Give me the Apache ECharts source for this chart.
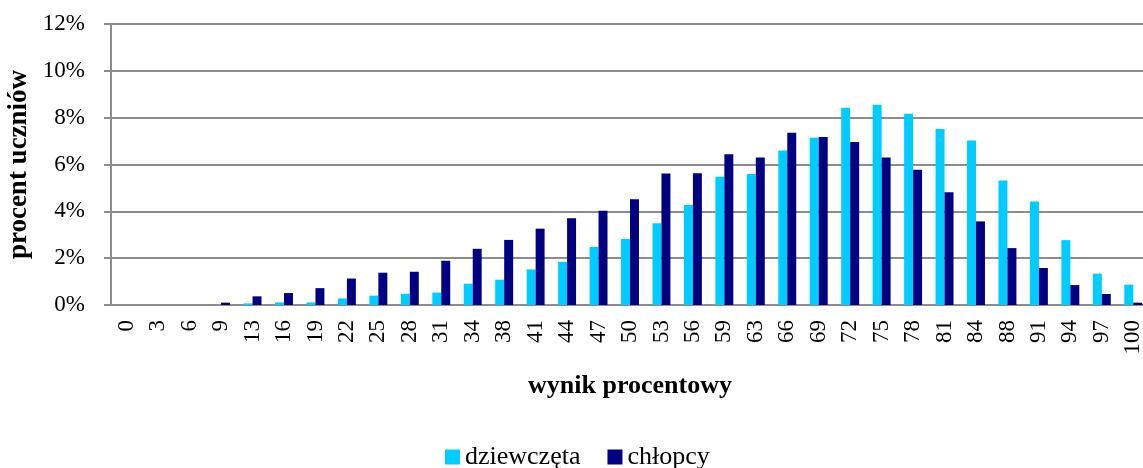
<!DOCTYPE html>
<html>
<head>
<meta charset="utf-8">
<script src="https://cdn.jsdelivr.net/npm/echarts@6/dist/echarts.min.js"></script>
<style>html,body{margin:0;padding:0;background:#fff}#c{width:1143px;height:468px}</style>
</head>
<body>
<div id="c"></div>
<script>
const categories = ['0','3','6','9','13','16','19','22','25','28','31','34','38','41','44','47','50','53','56','59','63','66','69','72','75','78','81','84','88','91','94','97','100'];
const dziewczeta = [0,0,0,0,0.07,0.11,0.11,0.28,0.40,0.48,0.53,0.91,1.08,1.52,1.84,2.48,2.82,3.49,4.27,5.48,5.59,6.60,7.14,8.42,8.55,8.17,7.52,7.03,5.32,4.42,2.77,1.34,0.87];
const chlopcy = [0,0,0,0.10,0.37,0.51,0.72,1.13,1.38,1.42,1.89,2.40,2.78,3.26,3.70,4.03,4.52,5.62,5.63,6.44,6.30,7.36,7.17,6.96,6.30,5.78,4.81,3.57,2.43,1.58,0.85,0.47,0.10];
const yTicks = {min:0, max:12, interval:2};

const font = '"Liberation Serif","Times New Roman",serif';
const chart = echarts.init(document.getElementById('c'));
chart.setOption({
  animation:false,
  grid:{left:111, top:24, width:1038, bottom:163, containLabel:false, outerBoundsMode:'none'},
  legend:{
    top:439, left:440,
    itemWidth:15, itemHeight:15, itemGap:27,
    icon:'rect',
    textStyle:{fontFamily:font, fontSize:26, color:'#000'},
    data:['dziewczęta','chłopcy']
  },
  xAxis:{
    type:'category', data:categories,
    name:'wynik procentowy', nameLocation:'middle', nameGap:68, nameMoveOverlap:false,
    nameTextStyle:{fontFamily:font, fontSize:26, fontWeight:'bold', color:'#000'},
    axisLine:{lineStyle:{color:'#8c8c8c', width:2}},
    axisTick:{show:false},
    axisLabel:{interval:0, rotate:90, fontFamily:font, fontSize:23, color:'#000', margin:15}
  },
  yAxis:{
    type:'value', min:yTicks.min, max:yTicks.max, interval:yTicks.interval,
    name:'procent uczniów', nameLocation:'middle', nameGap:78, nameRotate:90, nameMoveOverlap:false,
    nameTextStyle:{fontFamily:font, fontSize:27, fontWeight:'bold', color:'#000'},
    axisLine:{show:true, lineStyle:{color:'#8c8c8c', width:2}},
    axisTick:{show:true, inside:false, length:7, lineStyle:{color:'#8c8c8c', width:2}},
    axisLabel:{formatter:'{value}%', fontFamily:font, fontSize:23, color:'#000', margin:26},
    splitLine:{lineStyle:{color:'#8c8c8c', width:2}}
  },
  series:[
    {name:'dziewczęta', type:'bar', data:dziewczeta, barGap:'0%', barCategoryGap:'43%',
     itemStyle:{color:'#00CCFF'}},
    {name:'chłopcy', type:'bar', data:chlopcy, barGap:'0%', barCategoryGap:'43%',
     itemStyle:{color:'#000080'}}
  ]
});
</script>
</body>
</html>
